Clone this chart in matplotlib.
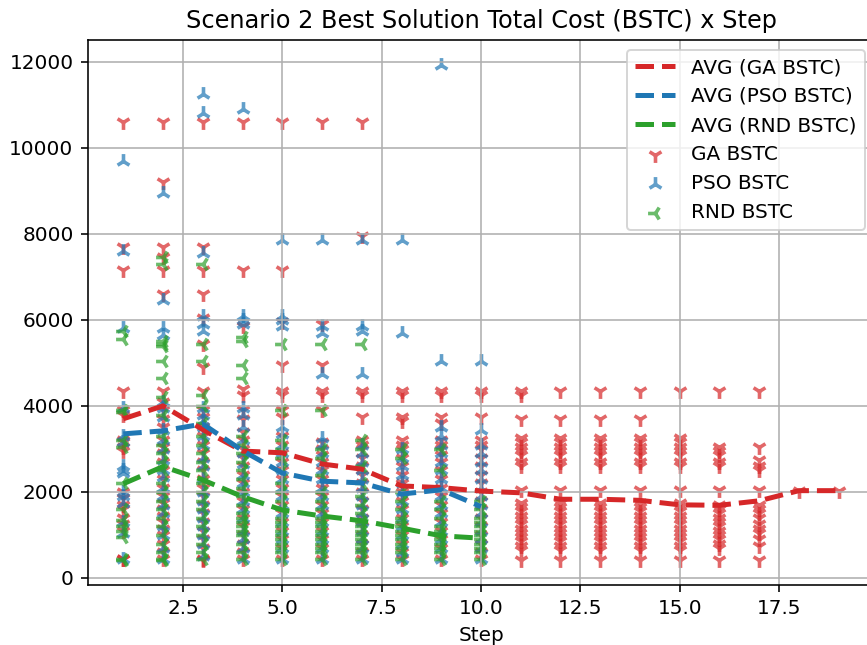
import matplotlib
matplotlib.use("Agg")
import matplotlib.pyplot as plt

steps = list(range(1, 20))

ga_values = [
    [10600, 7700, 7150, 4350, 3900, 3800, 3200, 3150, 3050, 2950, 2000, 1850, 1700, 1600, 1400, 1250, 1100, 450, 430],
    [10600, 9200, 7700, 7450, 7150, 6600, 4350, 4100, 3900, 3700, 3500, 3200, 3050, 2900, 2700, 2500, 2300, 2100, 1900, 1750, 1600, 1450, 1300, 1150, 1000, 800, 600, 450],
    [10600, 7700, 7150, 6600, 6050, 5450, 4900, 4350, 3900, 3750, 3500, 3300, 3100, 2900, 2700, 2500, 2300, 2100, 1900, 1700, 1500, 1300, 1100, 900, 700, 450, 420],
    [10600, 7150, 5850, 4400, 4250, 3900, 3700, 3400, 3200, 3000, 2800, 2600, 2400, 2200, 2000, 1800, 1600, 1400, 1200, 1000, 800, 600, 450],
    [10600, 7150, 5950, 4950, 4350, 4250, 3900, 3750, 3300, 3100, 2900, 2700, 2500, 2300, 2100, 1900, 1700, 1500, 1300, 1100, 900, 700, 450],
    [10600, 5900, 4950, 4350, 4250, 3900, 3150, 3000, 2850, 2700, 2500, 2300, 2100, 1900, 1700, 1500, 1300, 1100, 900, 700, 450],
    [10600, 7950, 4350, 4250, 3750, 3200, 3100, 3000, 2800, 2600, 2400, 2200, 2000, 1800, 1600, 1400, 1200, 1000, 800, 600, 450],
    [4350, 4250, 3750, 3650, 3200, 3100, 3000, 2800, 2600, 2400, 2200, 2000, 1800, 1600, 1400, 1200, 1000, 800, 600, 450],
    [4350, 4250, 3750, 3600, 3200, 3100, 3000, 2850, 2700, 2500, 2300, 2100, 1900, 1700, 1500, 1300, 1100, 900, 700, 450],
    [4350, 4250, 3750, 3200, 3100, 3000, 2800, 2600, 2400, 2200, 2000, 1800, 1600, 1400, 1200, 1000, 800, 600, 450],
    [4350, 4250, 3700, 3250, 3150, 3050, 2950, 2850, 2700, 2600, 2050, 1750, 1650, 1550, 1450, 1350, 1250, 1150, 1050, 950, 850, 750, 650, 420],
    [4350, 3700, 3250, 3150, 3050, 2950, 2850, 2700, 2600, 2050, 1750, 1650, 1550, 1450, 1350, 1250, 1150, 1050, 950, 850, 750, 650, 420],
    [4350, 3700, 3250, 3150, 3050, 2950, 2850, 2700, 2600, 2050, 1750, 1650, 1550, 1450, 1350, 1250, 1150, 1050, 950, 850, 750, 650, 420],
    [4350, 3700, 3250, 3150, 3050, 2950, 2850, 2700, 2600, 2050, 1750, 1650, 1550, 1450, 1350, 1250, 1150, 1050, 950, 850, 750, 650, 420],
    [4350, 3250, 3150, 3050, 2950, 2850, 2700, 2600, 2050, 1750, 1650, 1550, 1450, 1350, 1250, 1150, 1050, 950, 850, 750, 650, 420],
    [4350, 3050, 2950, 2850, 2700, 2600, 2050, 1700, 1600, 1500, 1400, 1300, 1200, 1100, 1000, 900, 800, 700, 420],
    [4350, 3050, 2750, 2600, 2500, 2050, 1700, 1600, 1500, 1400, 1250, 1150, 1050, 900, 750, 420],
    [2030],
    [2030],
]

pso_values = [
    [9700, 7600, 5800, 3950, 3300, 3150, 2600, 2500, 2450, 2000, 1900, 1750, 1300, 1050, 450],
    [8950, 6450, 5800, 5650, 4100, 3950, 3750, 3450, 3200, 3000, 2750, 2500, 2350, 2100, 1900, 1700, 1500, 1200, 1000, 700, 450],
    [11250, 10800, 7550, 6100, 5900, 5750, 3950, 3800, 3650, 3500, 3300, 3100, 2800, 2600, 2300, 2000, 1800, 1600, 1400, 1200, 1000, 800, 500],
    [10900, 6100, 6000, 5900, 3950, 3800, 3500, 3200, 2900, 2650, 2400, 2200, 2000, 1800, 1600, 1400, 1100, 900, 700, 450],
    [7850, 6100, 6000, 5850, 3500, 3350, 3100, 2900, 2700, 2500, 2300, 2100, 1900, 1700, 1500, 1300, 1100, 900, 700, 450],
    [7850, 5850, 5700, 4750, 3250, 3100, 2900, 2700, 2500, 2300, 2100, 1900, 1700, 1500, 1300, 1100, 900, 700, 450],
    [7850, 5850, 5750, 4750, 3100, 2900, 2700, 2500, 2300, 2100, 1900, 1700, 1500, 1300, 1100, 900, 700, 450],
    [7850, 5700, 3000, 2800, 2600, 2400, 2200, 2000, 1800, 1600, 1400, 1200, 1000, 800, 600, 450],
    [11930, 5050, 3500, 3300, 3100, 2900, 2700, 2500, 2300, 2100, 1900, 1700, 1500, 1300, 1100, 900, 700, 450],
    [5050, 3450, 3100, 2900, 2700, 2500, 2300, 2100, 1900, 1700, 1500, 1300, 1100, 900, 700, 450],
]

rnd_values = [
    [5750, 5550, 3900, 3850, 3200, 3050, 2200, 1600, 1350, 1200, 1100, 950, 450, 420],
    [7450, 7300, 5500, 5450, 5400, 5050, 4650, 4200, 3800, 3300, 3100, 2900, 2700, 2500, 2200, 2000, 1800, 1600, 1400, 1200, 1000, 800, 600, 450, 420],
    [7300, 5450, 5050, 4250, 4000, 3600, 3300, 3100, 2900, 2700, 2500, 2200, 2000, 1800, 1600, 1400, 1200, 1000, 800, 600, 450],
    [5600, 5500, 4950, 4650, 3300, 3100, 2900, 2700, 2500, 2300, 2100, 1900, 1700, 1500, 1400, 1300, 1200, 1100, 1000, 800, 600, 450],
    [5450, 3900, 3200, 3000, 2800, 2500, 2200, 2000, 1800, 1600, 1400, 1300, 1200, 1100, 1000, 900, 800, 700, 600, 450],
    [5450, 3900, 3000, 2800, 2400, 2000, 1800, 1600, 1400, 1300, 1200, 1100, 1000, 900, 800, 700, 600, 450],
    [5450, 3200, 3000, 2600, 2200, 1900, 1700, 1500, 1300, 1200, 1100, 1000, 900, 800, 700, 600, 450],
    [3000, 2800, 2000, 1800, 1600, 1400, 1300, 1200, 1100, 1000, 900, 800, 700, 600, 450],
    [3000, 2500, 1800, 1600, 1400, 1200, 1100, 1000, 900, 800, 700, 600, 450],
    [1800, 1600, 1400, 1300, 1200, 1100, 1000, 900, 800, 700, 600, 450],
]

ga_avg = [3700, 4000, 3450, 2950, 2910, 2650, 2530, 2140, 2100, 2020, 1980, 1830, 1830, 1805, 1700, 1690, 1795, 2030, 2030]
pso_avg = [3350, 3420, 3580, 2960, 2440, 2250, 2210, 1950, 2050, 1660]
rnd_avg = [2190, 2590, 2280, 1890, 1580, 1440, 1330, 1160, 980, 925]

W, H, DPI = 867, 645, 144
fig = plt.figure(figsize=(W / DPI, H / DPI), dpi=DPI)
left, right, top, bottom = 87.5, 874.5, 40, 585
ax = fig.add_axes([left / W, 1 - bottom / H, (right - left) / W, (bottom - top) / H])

ax.plot(steps[:len(ga_avg)], ga_avg, '--', color='tab:red', lw=2.5, label='AVG (GA BSTC)')
ax.plot(steps[:len(pso_avg)], pso_avg, '--', color='tab:blue', lw=2.5, label='AVG (PSO BSTC)')
ax.plot(steps[:len(rnd_avg)], rnd_avg, '--', color='tab:green', lw=2.5, label='AVG (RND BSTC)')

def flatten(vals):
    xs, ys = [], []
    for s, lst in zip(steps, vals):
        xs += [s] * len(lst)
        ys += lst
    return xs, ys

gx, gy = flatten(ga_values)
px, py = flatten(pso_values)
rx, ry = flatten(rnd_values)
ax.scatter(gx, gy, marker='1', color='tab:red', alpha=0.7, s=55, linewidths=1.8, label='GA BSTC')
ax.scatter(px, py, marker='2', color='tab:blue', alpha=0.7, s=55, linewidths=1.8, label='PSO BSTC')
ax.scatter(rx, ry, marker='3', color='tab:green', alpha=0.7, s=55, linewidths=1.8, label='RND BSTC')

ax.set_xlim(0.1, 19.9)
ax.set_ylim(-163, 12505)
ax.grid(True)
ax.set_title('Scenario 2 Best Solution Total Cost (BSTC) x Step')
ax.set_xlabel('Step')
ax.legend(loc='upper right')

fig.savefig('out.png', dpi=DPI)
